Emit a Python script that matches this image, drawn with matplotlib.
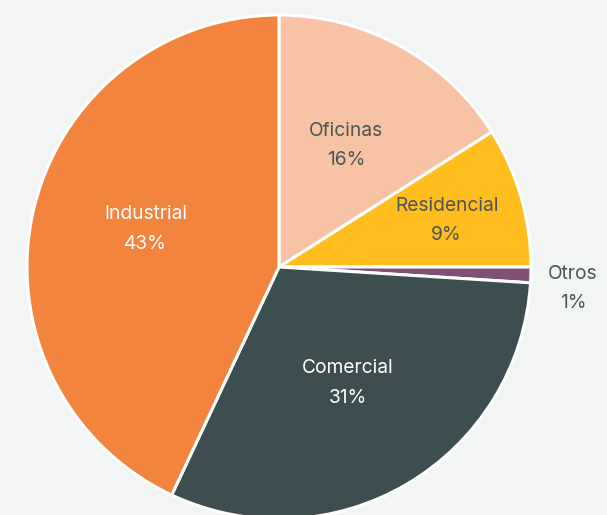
import matplotlib
matplotlib.use('Agg')
import matplotlib.pyplot as plt
import numpy as np

# Share of each sector (percent), clockwise from the top
sectors = ['Oficinas', 'Residencial', 'Otros', 'Comercial', 'Industrial']
shares = [16, 9, 1, 31, 43]
colors = ['#f7c3a4', '#ffbd1e', '#7e5076', '#3c4e50', '#f2843e']
text_colors = ['#4b5657', '#4b5657', '#4b5657', 'white', 'white']

# label placement: (fraction of radius, angle offset in degrees)
label_layout = [(0.55, 0.0), (0.69, -0.8), (1.17, -2.4), (0.535, 0.0), (0.55, -3.3)]

plt.rcParams['font.family'] = ['Inter', 'DejaVu Sans']

fig = plt.figure(figsize=(6.07, 5.15), dpi=100)
fig.patch.set_facecolor('#f3f4f4')
ax = fig.add_axes([0, 0, 1, 1])
ax.set_facecolor('#f3f4f4')

wedges, _ = ax.pie(shares, colors=colors, startangle=90, counterclock=False,
                   radius=1.0, wedgeprops=dict(edgecolor='white', linewidth=2.2))

total = float(sum(shares))
start = 90.0
for name, val, tc, (dist, off) in zip(sectors, shares, text_colors, label_layout):
    span = 360.0 * val / total
    mid = np.deg2rad(start - span / 2 + off)
    start -= span
    ax.text(dist * np.cos(mid), dist * np.sin(mid), '{}\n{}%'.format(name, val),
            ha='center', va='center', color=tc, fontsize=13.8, linespacing=1.8)

ax.set_xlim(-279 / 252, (607 - 279) / 252)
ax.set_ylim(-(515 - 267) / 252, 267 / 252)
ax.set_aspect('auto')
ax.axis('off')

fig.savefig('out.png', dpi=100, facecolor=fig.get_facecolor())
